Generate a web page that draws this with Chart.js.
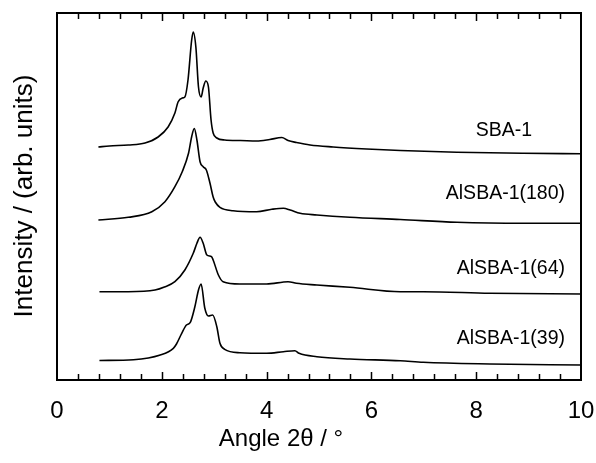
<!DOCTYPE html>
<html>
<head>
<meta charset="utf-8">
<script src="https://cdn.jsdelivr.net/npm/chart.js@4.4.1/dist/chart.umd.min.js"></script>
<style>
  html, body { margin: 0; padding: 0; background: #fff; }
  #wrap { width: 596px; height: 463px; }
</style>
</head>
<body>
<div id="wrap"><canvas id="xrd" width="596" height="463"></canvas></div>
<script>
// sample names, top to bottom
const seriesNames = ['SBA-1', 'AlSBA-1(180)', 'AlSBA-1(64)', 'AlSBA-1(39)'];
const xTickLabels = [0, 2, 4, 6, 8, 10];

// (2θ in degrees, intensity in arb. units, curves already offset)
const sbaAngle = [0.79, 1.0, 1.36, 1.68, 1.93, 2.12, 2.25, 2.31, 2.39, 2.44, 2.50, 2.57, 2.60, 2.65, 2.70, 2.75, 2.79, 2.84, 2.89, 2.94, 2.98, 3.05, 3.2, 3.5, 3.81, 4.06, 4.29, 4.41, 4.57, 4.83, 5.27, 5.91, 6.55, 7.63, 8.9, 10];
const sbaIntensity = [233, 234, 235, 237, 243, 253, 267, 278, 282, 283, 300, 340, 348, 333, 293, 283, 292, 299, 293, 260, 247, 242, 240, 239.5, 239, 240.5, 242.5, 239.5, 237.5, 235, 233, 231, 229.5, 227.7, 226.7, 226.3];

const al180Angle = [0.79, 1.36, 1.81, 2.06, 2.25, 2.39, 2.51, 2.57, 2.62, 2.67, 2.73, 2.79, 2.85, 2.92, 2.98, 3.02, 3.11, 3.36, 3.81, 4.1, 4.32, 4.45, 4.64, 4.96, 5.59, 6.55, 7.63, 8.9, 10];
const al180Intensity = [160, 162.7, 168.3, 178.3, 193.3, 208.3, 226.7, 243.3, 251.5, 240, 218.3, 213.3, 210, 196.7, 183, 178, 172.7, 169.3, 168.3, 170.7, 171.7, 170, 166.7, 165, 162.7, 160.5, 157.7, 156.7, 156.7];

const al64Angle = [0.81, 1.36, 1.87, 2.05, 2.25, 2.44, 2.60, 2.67, 2.73, 2.79, 2.86, 2.95, 2.98, 3.08, 3.17, 3.49, 4.0, 4.41, 4.57, 4.96, 5.59, 6.55, 6.99, 8.26, 10];
const al64Intensity = [88.3, 88.3, 90, 93, 98.3, 110, 126.7, 136.7, 142.7, 136.7, 125, 123.3, 120, 105, 98.3, 96, 96, 98.3, 96.7, 95, 92.7, 88.3, 88.3, 86.7, 86];

const al39Angle = [0.81, 1.46, 1.97, 2.22, 2.28, 2.38, 2.47, 2.54, 2.63, 2.70, 2.75, 2.82, 2.89, 2.97, 3.05, 3.11, 3.2, 3.49, 4.0, 4.32, 4.54, 4.62, 4.96, 5.59, 6.55, 6.99, 8.26, 10];
const al39Intensity = [19.5, 20.3, 25, 31.7, 36, 46.7, 55, 57.3, 73, 90, 96, 72, 64, 65, 53.3, 36.7, 30.7, 27.3, 26.7, 28.3, 29.3, 26.7, 23.3, 21, 19.3, 17.7, 16, 15];

function toPoints(xs, ys) {
    return xs.map((x, i) => ({ x: x, y: ys[i] }));
}

const curves = [
    toPoints(sbaAngle, sbaIntensity),
    toPoints(al180Angle, al180Intensity),
    toPoints(al64Angle, al64Intensity),
    toPoints(al39Angle, al39Intensity)
];

// frame, inward ticks, sample labels and axis titles
const decorations = {
    id: 'decorations',
    afterDraw(chart) {
        const ctx = chart.ctx;
        const area = chart.chartArea;
        const xs = chart.scales.x;
        ctx.save();
        ctx.strokeStyle = '#000';
        ctx.lineWidth = 2;
        ctx.strokeRect(area.left, area.top, area.right - area.left, area.bottom - area.top);

        ctx.lineWidth = 1.5;
        for (let i = 1; i < 25; i++) {
            const px = Math.round(xs.getPixelForValue(i * 0.4)) + 0.5;
            const len = i % 5 === 0 ? 8 : 6;
            ctx.beginPath();
            ctx.moveTo(px, area.bottom);
            ctx.lineTo(px, area.bottom - len);
            ctx.moveTo(px, area.top);
            ctx.lineTo(px, area.top + len);
            ctx.stroke();
        }

        ctx.fillStyle = '#000';
        ctx.textBaseline = 'middle';
        ctx.textAlign = 'right';
        ctx.font = '19.5px "Liberation Sans", Arial, sans-serif';
        const labelPos = [[532, 131], [565, 194], [565, 269], [565, 339]];
        seriesNames.forEach((name, i) => {
            ctx.fillText(name, labelPos[i][0], labelPos[i][1]);
        });

        ctx.textAlign = 'center';
        ctx.font = '24px "Liberation Sans", Arial, sans-serif';
        ctx.textBaseline = 'alphabetic';
        ctx.fillText('Angle 2\u03b8 / \u00b0', 281, 446);

        ctx.translate(25, 196);
        ctx.rotate(-Math.PI / 2);
        ctx.textBaseline = 'middle';
        ctx.font = '26px "Liberation Sans", Arial, sans-serif';
        ctx.fillText('Intensity / (arb. units)', 0, 0);
        ctx.restore();
    }
};

const ctx = document.getElementById('xrd').getContext('2d');
const chart = new Chart(ctx, {
    type: 'line',
    data: {
        datasets: curves.map((pts, i) => ({
            label: seriesNames[i],
            data: pts,
            borderColor: '#000',
            borderWidth: 1.6,
            pointRadius: 0,
            cubicInterpolationMode: 'monotone',
            fill: false
        }))
    },
    options: {
        responsive: false,
        animation: false,
        layout: { padding: { top: 13, right: 15 } },
        plugins: {
            legend: { display: false },
            tooltip: { enabled: false }
        },
        scales: {
            x: {
                type: 'linear',
                min: 0,
                max: 10,
                grid: { display: false, drawTicks: false },
                border: { display: false },
                afterBuildTicks: (scale) => {
                    scale.ticks = xTickLabels.map(v => ({ value: v }));
                },
                afterFit: (scale) => {
                    scale.height = 83;
                    scale.paddingLeft = 0;
                    scale.paddingRight = 0;
                },
                ticks: {
                    color: '#000',
                    padding: 17,
                    maxRotation: 0,
                    font: { family: '"Liberation Sans", Arial, sans-serif', size: 24 }
                }
            },
            y: {
                type: 'linear',
                min: 0,
                max: 367,
                grid: { display: false, drawTicks: false },
                border: { display: false },
                ticks: { display: false },
                afterFit: (scale) => { scale.width = 57; }
            }
        }
    },
    plugins: [decorations]
});
</script>
</body>
</html>
